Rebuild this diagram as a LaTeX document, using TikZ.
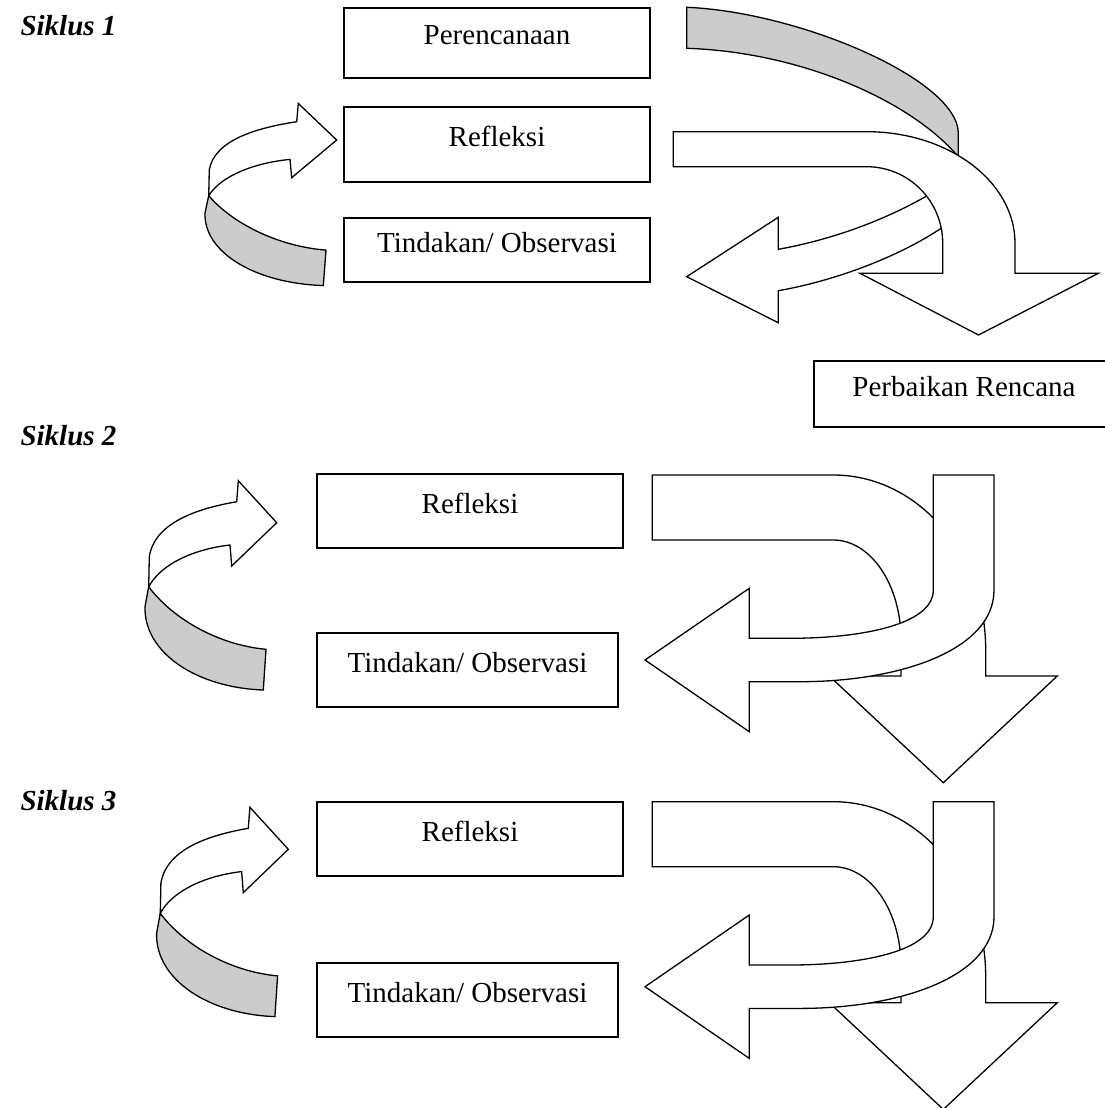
\documentclass[tikz,border=0pt]{standalone}
\usepackage{fontspec}
\setmainfont{Liberation Serif}
\definecolor{bandgray}{RGB}{204,204,204}
\newlength{\BoxWidth}
\newlength{\BoxHeight}
\setlength{\BoxWidth}{306pt}
\setlength{\BoxHeight}{74pt}
\newcommand{\labelsize}{\fontsize{29}{34}\selectfont}
\tikzset{
  stage box/.style={draw, rectangle, line width=1.5pt, minimum width=\BoxWidth,
    minimum height=\BoxHeight, inner sep=0pt, text height=20pt, text depth=16pt},
  cycle label/.style={anchor=base west, font=\labelsize\bfseries\itshape},
  block arrow/.style={draw, fill=white, line width=1.3pt, line join=miter},
  under side/.style={block arrow, fill=bandgray},
}
% curved arrow on the left, tip at the origin
\newcommand{\loopArrow}{%
  \path[under side] (-128,64) -- (-131.7,84)
    .. controls (-133,130) and (-80,165) .. (-13.4,167.3) -- (-10.7,126.6)
    .. controls (-60,122) and (-105,95) .. (-128,64) -- cycle;
  \path[block arrow] (0,0) -- (-38.4,-42) -- (-40,-21)
    .. controls (-80,-14) and (-122,0) .. (-127.4,34) -- (-128,64)
    .. controls (-115,40) and (-80,26) .. (-46.7,22.3) -- (-45,43.3) -- cycle;
}
% the two bent arrows of a cycle (coordinates of cycle 2)
\newcommand{\turnArrows}{%
  \path[block arrow] (652.3,475) -- (833.3,475)
    .. controls (917.5,475) and (985.7,553.4) .. (985.7,650) -- (985.7,676)
    -- (1057.3,676) -- (943.3,782.7) -- (829.3,676) -- (901,676) -- (901,640)
    .. controls (901,584.8) and (870.7,540) .. (833.3,540) -- (652.3,540) -- cycle;
  \path[block arrow] (933.3,475) -- (994,475) -- (994,590)
    .. controls (994,650) and (900,681.7) .. (800,681.7) -- (749.3,681.7)
    -- (749.3,731.7) -- (645,660) -- (749.3,588.3) -- (749.3,638.3) -- (790,638.3)
    .. controls (860,638.3) and (933.3,625) .. (933.3,590) -- cycle;
}

\begin{document}
\begin{tikzpicture}[x=1pt, y=-1pt, font=\labelsize]
  \useasboundingbox (0,0) rectangle (1105,1108);

  % Siklus 1
  \node[cycle label] (cyc1) at (17,36) {Siklus 1};
  \node[stage box, minimum height=70pt] (plan) at (497,43) {Perencanaan};
  \node[stage box, minimum height=75pt] (refl1) at (497,144.5) {Refleksi};
  \node[stage box, minimum height=64pt] (act1) at (497,250) {Tindakan/ Observasi};

  \begin{scope}[shift={(336.7,140)}, yscale=0.87]
    \loopArrow
  \end{scope}

  \path[under side] (686.7,7.3) .. controls (800,12) and (958.3,80) .. (958.3,133.3)
    -- (958.3,156.7) .. controls (910,100) and (800,52) .. (686.7,48.3) -- cycle;
  \path[block arrow] (965,210) .. controls (920,250) and (840,280) .. (778.3,290.7)
    -- (778.3,322.7) -- (686.7,276.7) -- (778.3,217.3) -- (778.3,249.3)
    .. controls (830,240) and (890,220) .. (945,185) -- cycle;
  \path[block arrow] (673.3,131.7) -- (866.7,131.7)
    .. controls (948.6,131.7) and (1015,181.7) .. (1015,243.3) -- (1015,273.3)
    -- (1098.3,273.3) -- (978.5,335) -- (860,273.3) -- (942.7,273.3) -- (942.7,243.3)
    .. controls (942.7,201) and (908.7,166.7) .. (866.7,166.7) -- (673.3,166.7) -- cycle;

  \node[stage box, minimum width=300pt, minimum height=66pt] (revise) at (964,394)
    {Perbaikan Rencana};

  % Siklus 2
  \node[cycle label] (cyc2) at (17,445) {Siklus 2};
  \node[stage box] (refl2) at (470,511) {Refleksi};
  \node[stage box, minimum width=301pt] (act2) at (467.5,670) {Tindakan/ Observasi};
  \begin{scope}[shift={(276.7,522.7)}]
    \loopArrow
  \end{scope}
  \turnArrows

  % Siklus 3
  \node[cycle label] (cyc3) at (17,810) {Siklus 3};
  \node[stage box] (refl3) at (470,839) {Refleksi};
  \node[stage box, minimum width=301pt] (act3) at (467.5,1000) {Tindakan/ Observasi};
  \begin{scope}[shift={(288.3,849.3)}]
    \loopArrow
  \end{scope}
  \begin{scope}[shift={(0,326.7)}]
    \turnArrows
  \end{scope}

\end{tikzpicture}
\end{document}
